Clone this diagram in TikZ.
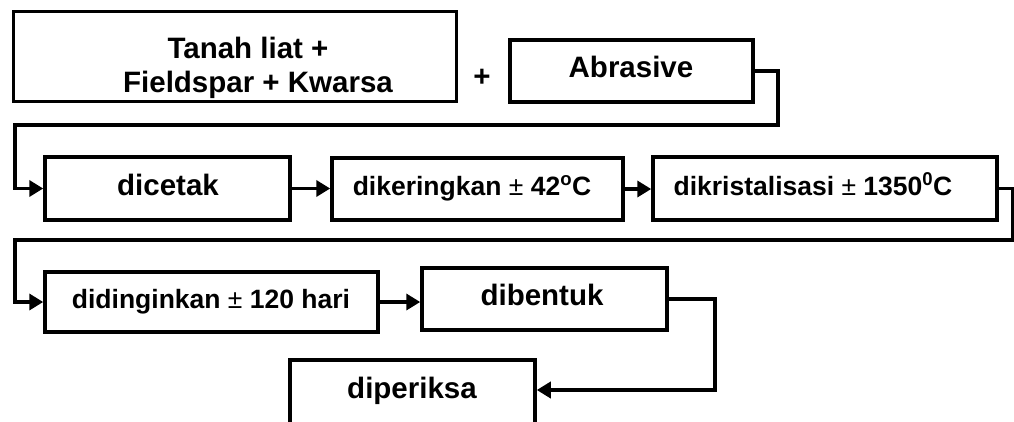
\documentclass[tikz,border=0pt]{standalone}
\usepackage{fontspec}
\setmainfont{Liberation Sans}
\usetikzlibrary{arrows.meta}
\tikzset{
  box/.style={draw, line width=3.5pt, rectangle, inner sep=0pt},
  lbl/.style={anchor=base, inner sep=0pt, font=\bfseries\fontsize{29.5}{33}\selectfont},
  slbl/.style={anchor=base, inner sep=0pt, font=\bfseries\fontsize{26.5}{30}\selectfont},
  arr/.style={line width=3.5pt, -{Triangle[length=14pt,width=16pt]}},
}
\newcommand{\pmm}{{\mdseries\char"00B1}}
\begin{document}
\begin{tikzpicture}[x=1pt,y=-1pt]
\useasboundingbox (0,0) rectangle (1014,421);
\clip (0,0) rectangle (1014,421);
% boxes
\node[box, minimum width=443pt, minimum height=90pt] (raw) at (235,56.5) {};
\node[box, minimum width=243pt, minimum height=62pt] (abr) at (631.5,71) {};
\node[box, minimum width=245pt, minimum height=63pt] (dic) at (167.5,188.5) {};
\node[box, minimum width=291pt, minimum height=62pt] (ker) at (477.5,189) {};
\node[box, minimum width=344pt, minimum height=63pt] (kri) at (825,188.5) {};
\node[box, minimum width=333pt, minimum height=60pt] (din) at (211.5,302) {};
\node[box, minimum width=245pt, minimum height=62pt] (ben) at (544.5,299) {};
\node[box, minimum width=245pt, minimum height=100pt] (per) at (412.5,410) {};
% labels
\node[lbl] (t1) at (248,58) {Tanah liat +};
\node[lbl] (t2) at (258,92) {Fieldspar + Kwarsa};
\node[lbl] (plus) at (482,86) {+};
\node[lbl] (t3) at (631,77) {Abrasive};
\node[lbl] (t4) at (168,195) {dicetak};
\node[slbl] (t5) at (472,195) {dikeringkan \pmm{} 42\textsuperscript{o}C};
\node[slbl] (t6) at (813,195) {dikristalisasi \pmm{} 1350\textsuperscript{0}C};
\node[slbl] (t7) at (211,308) {didinginkan \pmm{} 120 hari};
\node[lbl] (t8) at (542,305) {dibentuk};
\node[lbl] (t9) at (412,398) {diperiksa};
% connectors
\coordinate (a1) at (778,125);
\coordinate (a2) at (15,125);
\draw[arr] (abr.east) -| (a1) -- (a2) |- (dic.west);
\draw[arr] (dic.east) -- (ker.west |- dic.east);
\draw[arr] (ker.east) -- (kri.west |- ker.east);
\coordinate (b1) at (1013,240);
\coordinate (b2) at (15,240);
\draw[arr] (kri.east) -| (b1) -- (b2) |- (din.west);
\draw[arr] (din.east) -- (ben.west |- din.east);
\coordinate (c1) at (715,390);
\draw[arr] (ben.east) -| (c1) -- (c1 -| per.east);
\end{tikzpicture}
\end{document}
